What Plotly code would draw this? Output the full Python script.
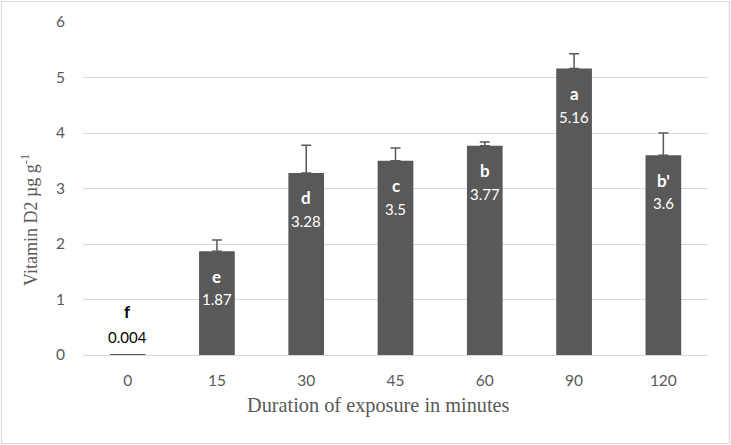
import plotly.graph_objects as go

categories = ["0", "15", "30", "45", "60", "90", "120"]
values = [0.004, 1.87, 3.28, 3.5, 3.77, 5.16, 3.6]
errors = [0.0, 0.2, 0.5, 0.23, 0.07, 0.27, 0.4]
letters = ["f", "e", "d", "c", "b", "a", "b'"]
value_labels = ["0.004", "1.87", "3.28", "3.5", "3.77", "5.16", "3.6"]
x_title = "Duration of exposure in minutes"
y_title = "Vitamin D2 µg g<sup>-1</sup>"

W, H = 731, 445
ml, mr, mt, mb = 83, 23, 22, 90
pw, ph = W - ml - mr, H - mt - mb

fig = go.Figure()
fig.add_trace(go.Bar(
    x=categories, y=values,
    marker=dict(color="#595959", line=dict(width=0)),
    width=0.4,
    error_y=dict(type="data", array=errors, symmetric=False, arrayminus=[0]*len(errors),
                 visible=True, color="#595959", thickness=1.5, width=5),
    hoverinfo="skip",
))

annotations = []
for i, v in enumerate(values):
    inside = v > 1
    col = "white" if inside else "black"
    # category axis: use the category index so numeric-looking names are not misread
    annotations.append(dict(x=i, y=v, xref="x", yref="y", text="<b>%s</b>" % letters[i],
                            showarrow=False, yanchor="middle",
                            yshift=-25 if inside else 43,
                            font=dict(family="Lato, Open Sans, sans-serif", size=17, color=col)))
    annotations.append(dict(x=i, y=v, xref="x", yref="y", text=value_labels[i],
                            showarrow=False, yanchor="middle",
                            yshift=-48 if inside else 18,
                            font=dict(family="Lato, Open Sans, sans-serif", size=15, color=col)))

title_font = dict(family="Liberation Serif, Times New Roman, serif", color="#595959")
annotations.append(dict(text=x_title, xref="paper", yref="paper",
                        x=(378 - ml) / pw, y=-(405 - (H - mb)) / ph,
                        xanchor="center", yanchor="middle", showarrow=False,
                        font=dict(size=20.3, **title_font)))
annotations.append(dict(text=y_title, xref="paper", yref="paper", textangle=-90,
                        x=(30 - ml) / pw, y=((H - mb) - 220) / ph,
                        xanchor="center", yanchor="middle", showarrow=False,
                        font=dict(size=18, **title_font)))

fig.update_layout(
    width=W, height=H,
    margin=dict(l=ml, r=mr, t=mt, b=mb),
    paper_bgcolor="white", plot_bgcolor="white",
    showlegend=False,
    annotations=annotations,
    shapes=[dict(type="rect", xref="paper", yref="paper",
                 x0=-(ml - 1.5) / pw, x1=1 + (mr - 1.5) / pw,
                 y0=-(mb - 1.5) / ph, y1=1 + (mt - 1.5) / ph,
                 line=dict(color="#d9d9d9", width=1.2), layer="below")],
    xaxis=dict(
        type="category", range=[-0.5, len(categories) - 0.5],
        showgrid=False, showline=False, zeroline=False,
        ticks="", ticklabelstandoff=14,
        tickfont=dict(family="Lato, Open Sans, sans-serif", size=15.5, color="#595959"),
    ),
    yaxis=dict(
        range=[0, 6], dtick=1, showgrid=True, gridcolor="#d9d9d9", gridwidth=1.3,
        zeroline=True, zerolinecolor="#d9d9d9", zerolinewidth=1.3,
        showline=False, ticks="", ticklabelstandoff=17,
        tickfont=dict(family="Lato, Open Sans, sans-serif", size=15.5, color="#595959"),
    ),
)

fig.write_html("out.html", config={"displayModeBar": False},
               post_script="document.body.style.margin='0';")
